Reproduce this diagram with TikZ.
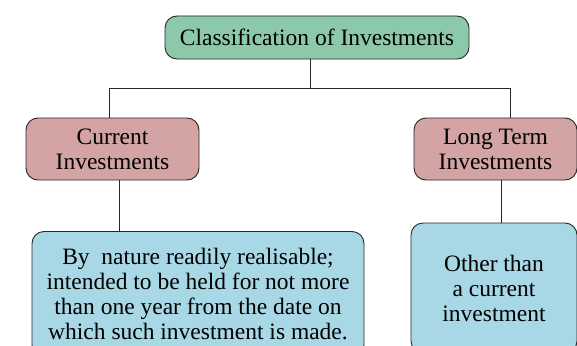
\documentclass[tikz,border=0pt]{standalone}
\usepackage{fontspec}
\setmainfont{Liberation Serif}
\definecolor{topg}{RGB}{140,201,171}
\definecolor{midp}{RGB}{212,163,163}
\definecolor{botb}{RGB}{168,215,230}
\begin{document}
\begin{tikzpicture}[x=1pt,y=-1pt,
  box/.style={draw=black!85, line width=0.9pt, rounded corners=12pt, align=center, inner sep=0pt,
    font=\fontsize{23.5}{25}\selectfont},
  link/.style={draw=black!85, line width=0.9pt}]
\useasboundingbox (0,0) rectangle (577,345);
\clip (0,0) rectangle (577,345);
\node[box, fill=topg, minimum width=304pt, minimum height=43pt] (top) at (317,37.5) {\raisebox{1.5pt}{Classification of Investments}};
\node[box, fill=midp, minimum width=173pt, minimum height=62pt] (cur) at (112.5,149) {Current\\Investments};
\node[box, fill=midp, minimum width=163pt, minimum height=62pt] (lt) at (495.5,149) {Long Term\\Investments};
\node[box, fill=botb, minimum width=332pt, minimum height=126pt] (cd) at (198,294.5) {By\ \ nature readily realisable;\\intended to be held for not more\\than one year from the date on\\which such investment is made.};
\node[box, fill=botb, minimum width=166pt, minimum height=130pt] (ld) at (494,288) {Other than\\a current\\investment};
\coordinate (jt) at (310,0);
\coordinate (j) at (310,88);
\coordinate (jl) at (109,88);
\coordinate (jr) at (510,88);
\draw[link] (top.south -| jt) -- (j);
\draw[link] (jl) -- (jr);
\draw[link] (jl) -- (jl |- cur.north);
\draw[link] (jr) -- (jr |- lt.north);
\draw[link] (cur.south -| 119,0) -- (cd.north -| 119,0);
\draw[link] (lt.south -| 501,0) -- (ld.north -| 501,0);
\end{tikzpicture}
\end{document}
